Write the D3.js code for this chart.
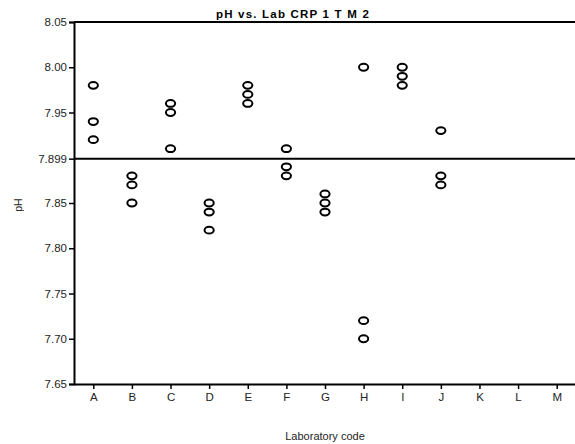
<!DOCTYPE html>
<html>
<head>
<meta charset="utf-8">
<script src="https://cdn.jsdelivr.net/npm/d3@7"></script>
<style>
  html, body { margin: 0; padding: 0; background: #fff; }
  svg { display: block; font-family: Arial, "Liberation Sans", sans-serif; }
  text { opacity: 0.99; }
  .tick text { font-size: 11.5px; fill: #222; }
</style>
</head>
<body>
<svg id="chart" width="575" height="444"></svg>
<script>
(function () {
  'use strict';

  // Laboratory codes on the x axis
  const LABS = ['A', 'B', 'C', 'D', 'E', 'F', 'G', 'H', 'I', 'J', 'K', 'L', 'M'];

  // pH readings, three replicate results per lab (K, L, M reported nothing)
  const LAB_OF = ['A', 'A', 'A', 'B', 'B', 'B', 'C', 'C', 'C', 'D', 'D', 'D', 'E', 'E', 'E',
                  'F', 'F', 'F', 'G', 'G', 'G', 'H', 'H', 'H', 'I', 'I', 'I', 'J', 'J', 'J'];
  const PH = [7.98, 7.94, 7.92, 7.88, 7.87, 7.85, 7.96, 7.95, 7.91, 7.85, 7.84, 7.82,
              7.98, 7.97, 7.96, 7.91, 7.89, 7.88, 7.86, 7.85, 7.84, 8.00, 7.72, 7.70,
              8.00, 7.99, 7.98, 7.93, 7.88, 7.87];

  const Y_TICKS = [7.65, 7.70, 7.75, 7.80, 7.85, 7.899, 7.95, 8.00, 8.05];
  const MEAN_PH = 7.899;

  const svg = d3.select('#chart');
  const left = 74, right = 576, top = 22, bottom = 384;

  const x = d3.scalePoint().domain(LABS).range([left, right]).padding(0.5);
  const y = d3.scaleLinear().domain([7.65, 8.05]).range([bottom, top]);

  // y axis
  svg.append('g')
    .attr('transform', `translate(${left},0)`)
    .call(d3.axisLeft(y).tickValues(Y_TICKS).tickSize(5).tickPadding(2)
      .tickFormat(d => d === MEAN_PH ? '7.899' : d3.format('.2f')(d)))
    .call(g => g.select('.domain').attr('stroke', '#000').attr('stroke-width', 2))
    .call(g => g.selectAll('.tick line').attr('stroke', '#000').attr('stroke-width', 1.5));

  // x axis
  svg.append('g')
    .attr('transform', `translate(0,${bottom})`)
    .call(d3.axisBottom(x).tickSize(5).tickPadding(4).tickSizeOuter(0))
    .call(g => g.select('.domain').attr('stroke', '#000').attr('stroke-width', 2))
    .call(g => g.selectAll('.tick line').attr('stroke', '#000').attr('stroke-width', 1.5));

  // top frame line
  svg.append('line')
    .attr('x1', left).attr('x2', 575)
    .attr('y1', y(8.05)).attr('y2', y(8.05))
    .attr('stroke', '#000').attr('stroke-width', 2);

  // mean reference line
  svg.append('line')
    .attr('x1', left).attr('x2', 575)
    .attr('y1', y(MEAN_PH)).attr('y2', y(MEAN_PH))
    .attr('stroke', '#000').attr('stroke-width', 2);

  // data points - open ellipses
  svg.append('g')
    .selectAll('ellipse')
    .data(PH.map((v, i) => ({ lab: LAB_OF[i], ph: v })))
    .join('ellipse')
    .attr('cx', d => x(d.lab))
    .attr('cy', d => y(d.ph))
    .attr('rx', 4.6).attr('ry', 3.4)
    .attr('fill', 'none')
    .attr('stroke', '#000')
    .attr('stroke-width', 2);

  // title
  svg.append('text')
    .attr('x', 293).attr('y', 18)
    .attr('text-anchor', 'middle')
    .attr('font-size', 11.5).attr('font-weight', 'bold')
    .attr('letter-spacing', 1.2)
    .text('pH vs. Lab CRP 1 T M 2');

  // axis titles
  svg.append('text')
    .attr('transform', 'translate(22,205) rotate(-90)')
    .attr('text-anchor', 'middle')
    .attr('font-size', 10.5).attr('fill', '#222')
    .text('pH');

  svg.append('text')
    .attr('x', 325).attr('y', 440)
    .attr('text-anchor', 'middle')
    .attr('font-size', 11).attr('fill', '#222')
    .text('Laboratory code');
})();
</script>
</body>
</html>
